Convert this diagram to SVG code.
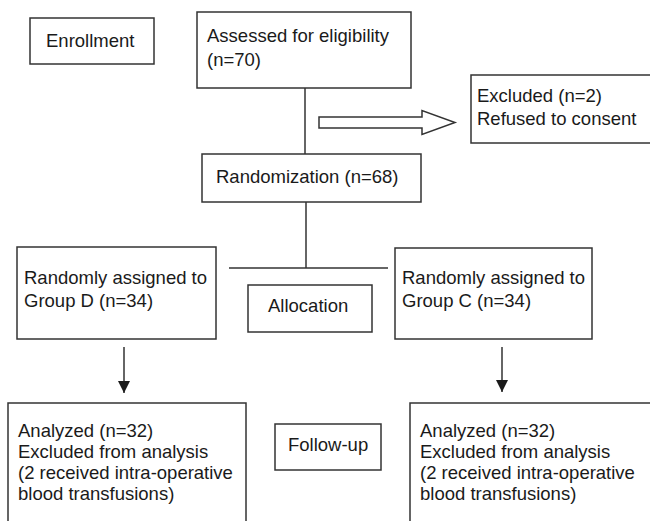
<svg xmlns="http://www.w3.org/2000/svg" width="650" height="521" viewBox="0 0 650 521">
  <style>
    .box { fill: #ffffff; stroke: #333333; stroke-width: 1.5; }
    .line { fill: none; stroke: #333333; stroke-width: 1.5; }
    .hollow { fill: #ffffff; stroke: #333333; stroke-width: 1.5; stroke-linejoin: miter; }
    text { font-family: "Liberation Sans", Arial, Helvetica, sans-serif; font-size: 18.5px; fill: #1a1a1a; }
  </style>
  <defs>
    <marker id="arrow" markerUnits="userSpaceOnUse" markerWidth="12" markerHeight="12" refX="12" refY="6" orient="auto">
      <path d="M0,0 L12,6 L0,12 z" fill="#1a1a1a"/>
    </marker>
  </defs>
  <rect width="650" height="521" fill="#ffffff"/>

  <g id="connectors">
    <line class="line" x1="305" y1="88" x2="305" y2="154"/>
    <line class="line" x1="306" y1="202" x2="306" y2="268"/>
    <line class="line" x1="229" y1="268" x2="388" y2="268"/>
    <polygon class="hollow" points="319,117 422,117 422,110.5 455,122.5 422,134.5 422,128 319,128"/>
    <line class="line" x1="124" y1="347" x2="124" y2="393" marker-end="url(#arrow)"/>
    <line class="line" x1="502" y1="347" x2="502" y2="392" marker-end="url(#arrow)"/>
  </g>

  <g id="enrollment">
    <rect class="box" x="30" y="18" width="124" height="46"/>
    <text x="46" y="47">Enrollment</text>
  </g>

  <g id="assessed">
    <rect class="box" x="197" y="12" width="214" height="76"/>
    <text x="207" y="42">Assessed for eligibility</text>
    <text x="207" y="66">(n=70)</text>
  </g>

  <g id="excluded">
    <rect class="box" x="471" y="75" width="200" height="68"/>
    <text x="477" y="102">Excluded (n=2)</text>
    <text x="477" y="125">Refused to consent</text>
  </g>

  <g id="randomization">
    <rect class="box" x="202" y="154" width="219" height="48"/>
    <text x="216" y="183">Randomization (n=68)</text>
  </g>

  <g id="group-d">
    <rect class="box" x="17" y="247" width="199" height="92"/>
    <text x="24" y="284">Randomly assigned to</text>
    <text x="24" y="307">Group D (n=34)</text>
  </g>

  <g id="allocation">
    <rect class="box" x="248" y="285" width="124" height="47"/>
    <text x="268" y="312">Allocation</text>
  </g>

  <g id="group-c">
    <rect class="box" x="395" y="248" width="197" height="91"/>
    <text x="402" y="284">Randomly assigned to</text>
    <text x="402" y="307">Group C (n=34)</text>
  </g>

  <g id="analyzed-d">
    <rect class="box" x="8" y="403" width="238" height="130"/>
    <text x="18" y="437">Analyzed (n=32)</text>
    <text x="18" y="458">Excluded from analysis</text>
    <text x="18" y="479">(2 received intra-operative</text>
    <text x="18" y="500">blood transfusions)</text>
  </g>

  <g id="follow-up">
    <rect class="box" x="275" y="424" width="106" height="46"/>
    <text x="288" y="451">Follow-up</text>
  </g>

  <g id="analyzed-c">
    <rect class="box" x="410" y="403" width="260" height="130"/>
    <text x="420" y="437">Analyzed (n=32)</text>
    <text x="420" y="458">Excluded from analysis</text>
    <text x="420" y="479">(2 received intra-operative</text>
    <text x="420" y="500">blood transfusions)</text>
  </g>
</svg>
